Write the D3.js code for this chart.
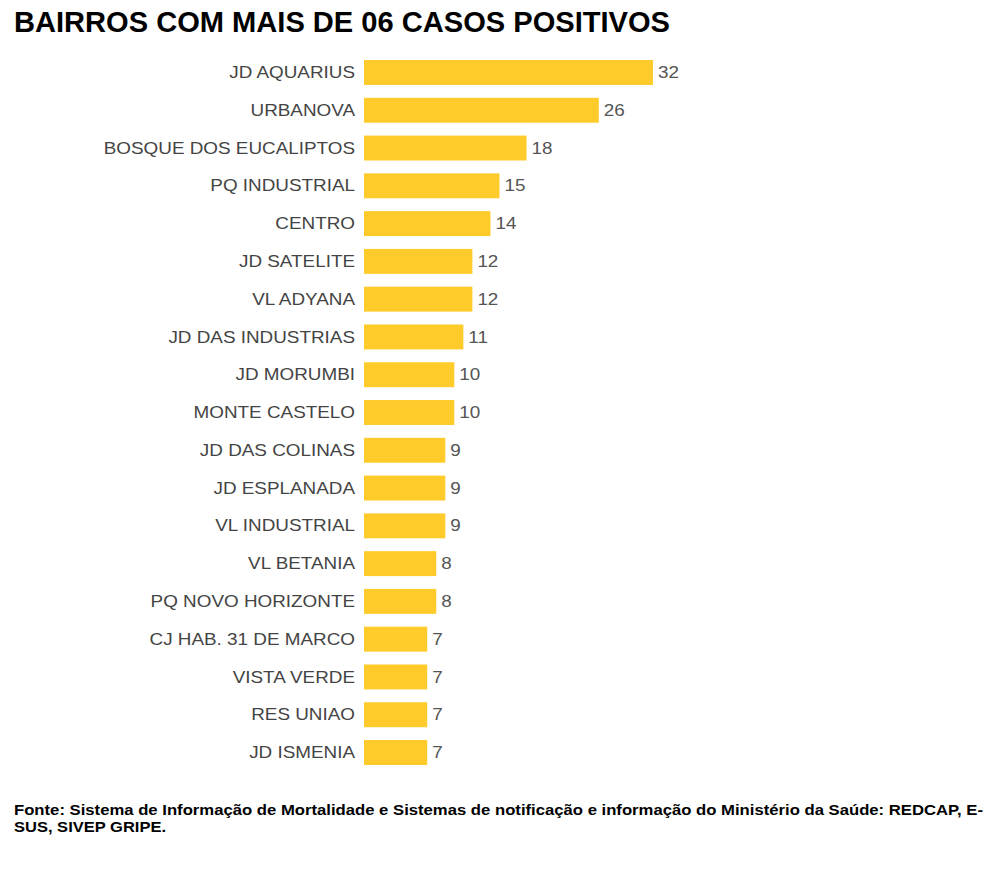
<!DOCTYPE html>
<html>
<head>
<meta charset="utf-8">
<script src="https://cdn.jsdelivr.net/npm/d3@7"></script>
<style>
  html, body { margin: 0; padding: 0; background: #fff; }
  svg { display: block; }
</style>
</head>
<body>
<script>
const title = "BAIRROS COM MAIS DE 06 CASOS POSITIVOS";
const categories = [
  "JD AQUARIUS", "URBANOVA", "BOSQUE DOS EUCALIPTOS", "PQ INDUSTRIAL", "CENTRO",
  "JD SATELITE", "VL ADYANA", "JD DAS INDUSTRIAS", "JD MORUMBI", "MONTE CASTELO",
  "JD DAS COLINAS", "JD ESPLANADA", "VL INDUSTRIAL", "VL BETANIA", "PQ NOVO HORIZONTE",
  "CJ HAB. 31 DE MARCO", "VISTA VERDE", "RES UNIAO", "JD ISMENIA"
];
const values = [32, 26, 18, 15, 14, 12, 12, 11, 10, 10, 9, 9, 9, 8, 8, 7, 7, 7, 7];
const footerLines = [
  "Fonte: Sistema de Informação de Mortalidade e Sistemas de notificação e informação do Ministério da Saúde: REDCAP, E-",
  "SUS, SIVEP GRIPE."
];

const W = 999, H = 877;
const svg = d3.select("body").append("svg").attr("width", W).attr("height", H);
svg.append("rect").attr("width", W).attr("height", H).attr("fill", "#fff");

const FONT = "'Liberation Sans', Arial, Helvetica, sans-serif";
const STRETCH = 1.18;

svg.append("text")
  .attr("x", 14).attr("y", 32)
  .attr("font-family", FONT).attr("font-weight", "bold").attr("font-size", 29)
  .attr("fill", "#000")
  .attr("textLength", 656).attr("lengthAdjust", "spacingAndGlyphs")
  .text(title);

const x = d3.scaleLinear().domain([0, d3.max(values)]).range([364, 653]);
const y = d3.scaleBand().domain(categories).range([53.6, 771.4])
  .paddingInner(0.34).paddingOuter(0.17);

const data = categories.map((c, i) => ({ c, v: values[i] }));

svg.append("g").selectAll("rect").data(data).join("rect")
  .attr("x", x(0)).attr("y", d => y(d.c))
  .attr("width", d => x(d.v) - x(0)).attr("height", y.bandwidth())
  .attr("fill", "#FFCB2B");

svg.append("g").selectAll("text").data(data).join("text")
  .attr("transform", d => `translate(${x(0) - 9},${y(d.c) + y.bandwidth() / 2}) scale(${STRETCH},1)`)
  .attr("dy", "0.35em").attr("text-anchor", "end")
  .attr("font-family", FONT).attr("font-size", 16).attr("fill", "#444")
  .text(d => d.c);

svg.append("g").selectAll("text").data(data).join("text")
  .attr("transform", d => `translate(${x(d.v) + 5},${y(d.c) + y.bandwidth() / 2}) scale(${STRETCH},1)`)
  .attr("dy", "0.35em").attr("text-anchor", "start")
  .attr("font-family", FONT).attr("font-size", 16).attr("fill", "#555")
  .text(d => d.v);

const footerLens = [969, 152];
svg.append("g").selectAll("text").data(footerLines).join("text")
  .attr("x", 14).attr("y", (d, i) => 815 + i * 17)
  .attr("font-family", FONT).attr("font-weight", "bold").attr("font-size", 15)
  .attr("fill", "#000")
  .attr("textLength", (d, i) => footerLens[i]).attr("lengthAdjust", "spacingAndGlyphs")
  .text(d => d);
</script>
</body>
</html>
